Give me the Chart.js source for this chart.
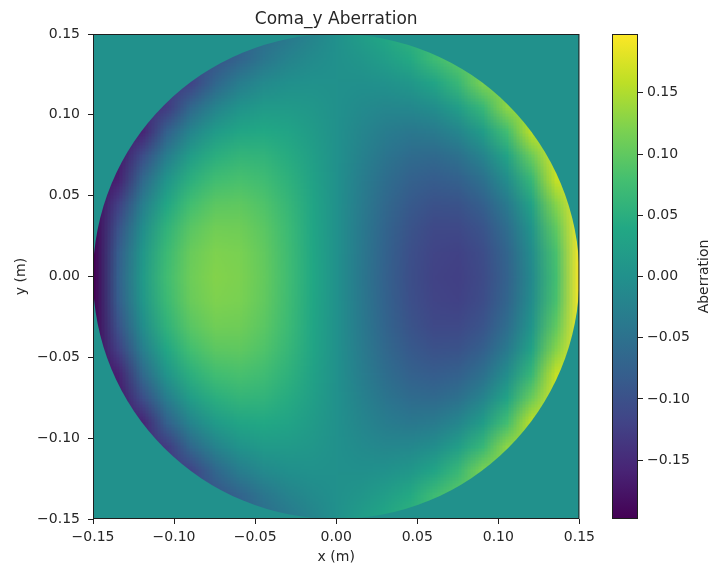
<!DOCTYPE html>
<html>
<head>
<meta charset="utf-8">
<script src="https://cdn.jsdelivr.net/npm/chart.js@4.4.0/dist/chart.umd.min.js"></script>
<style>
    html, body { margin: 0; padding: 0; background: #fff; }
    #wrap { position: relative; width: 715px; height: 572px; }
    #main { position: absolute; left: 0; top: 0; }
    #cbar { position: absolute; left: 600px; top: 0; }
</style>
</head>
<body>
<div id="wrap">
    <canvas id="main" width="600" height="572"></canvas>
    <canvas id="cbar" width="115" height="572"></canvas>
</div>
<script>
// grid positions (m) of the sampled aberration values
const xCoords = [-0.15, -0.135, -0.12, -0.105, -0.09, -0.075, -0.06, -0.045, -0.03, -0.015, 0,
    0.015, 0.03, 0.045, 0.06, 0.075, 0.09, 0.105, 0.12, 0.135, 0.15];
const yCoords = [0.15, 0.135, 0.12, 0.105, 0.09, 0.075, 0.06, 0.045, 0.03, 0.015, 0,
    -0.015, -0.03, -0.045, -0.06, -0.075, -0.09, -0.105, -0.12, -0.135, -0.15];

// aberration, one row per yCoords entry (top to bottom)
const aberration = [
    [-0.140, -0.132, -0.124, -0.114, -0.102, -0.089, -0.074, -0.057, -0.039, -0.020, 0, 0.020, 0.039, 0.057, 0.074, 0.089, 0.102, 0.114, 0.124, 0.132, 0.140],
    [-0.147, -0.140, -0.132, -0.122, -0.110, -0.096, -0.072, -0.042, -0.022, -0.009, 0, 0.009, 0.022, 0.042, 0.072, 0.096, 0.110, 0.122, 0.132, 0.140, 0.147],
    [-0.155, -0.148, -0.140, -0.130, -0.119, -0.066, -0.032, -0.011, -0.002, 0.001, 0, -0.001, 0.002, 0.011, 0.032, 0.066, 0.119, 0.130, 0.140, 0.148, 0.155],
    [-0.162, -0.156, -0.149, -0.130, -0.065, -0.022, 0.004, 0.015, 0.016, 0.010, 0, -0.010, -0.016, -0.015, -0.004, 0.022, 0.065, 0.130, 0.149, 0.156, 0.162],
    [-0.170, -0.165, -0.158, -0.076, -0.019, 0.017, 0.035, 0.039, 0.032, 0.018, 0, -0.018, -0.032, -0.039, -0.035, -0.017, 0.019, 0.076, 0.158, 0.165, 0.170],
    [-0.177, -0.173, -0.106, -0.031, 0.020, 0.050, 0.061, 0.058, 0.045, 0.024, 0, -0.024, -0.045, -0.058, -0.061, -0.050, -0.020, 0.031, 0.106, 0.173, 0.177],
    [-0.184, -0.162, -0.063, 0.007, 0.052, 0.076, 0.082, 0.074, 0.055, 0.030, 0, -0.030, -0.055, -0.074, -0.082, -0.076, -0.052, -0.007, 0.063, 0.162, 0.184],
    [-0.190, -0.125, -0.030, 0.036, 0.077, 0.097, 0.099, 0.087, 0.064, 0.034, 0, -0.034, -0.064, -0.087, -0.099, -0.097, -0.077, -0.036, 0.030, 0.125, 0.190],
    [-0.194, -0.098, -0.006, 0.057, 0.095, 0.112, 0.111, 0.096, 0.070, 0.037, 0, -0.037, -0.070, -0.096, -0.111, -0.112, -0.095, -0.057, 0.006, 0.098, 0.194],
    [-0.197, -0.082, 0.008, 0.069, 0.106, 0.121, 0.118, 0.101, 0.073, 0.038, 0, -0.038, -0.073, -0.101, -0.118, -0.121, -0.106, -0.069, -0.008, 0.082, 0.197],
    [-0.198, -0.077, 0.013, 0.074, 0.109, 0.124, 0.120, 0.103, 0.074, 0.039, 0, -0.039, -0.074, -0.103, -0.120, -0.124, -0.109, -0.074, -0.013, 0.077, 0.198],
    [-0.197, -0.082, 0.008, 0.069, 0.106, 0.121, 0.118, 0.101, 0.073, 0.038, 0, -0.038, -0.073, -0.101, -0.118, -0.121, -0.106, -0.069, -0.008, 0.082, 0.197],
    [-0.194, -0.098, -0.006, 0.057, 0.095, 0.112, 0.111, 0.096, 0.070, 0.037, 0, -0.037, -0.070, -0.096, -0.111, -0.112, -0.095, -0.057, 0.006, 0.098, 0.194],
    [-0.190, -0.125, -0.030, 0.036, 0.077, 0.097, 0.099, 0.087, 0.064, 0.034, 0, -0.034, -0.064, -0.087, -0.099, -0.097, -0.077, -0.036, 0.030, 0.125, 0.190],
    [-0.184, -0.162, -0.063, 0.007, 0.052, 0.076, 0.082, 0.074, 0.055, 0.030, 0, -0.030, -0.055, -0.074, -0.082, -0.076, -0.052, -0.007, 0.063, 0.162, 0.184],
    [-0.177, -0.173, -0.106, -0.031, 0.020, 0.050, 0.061, 0.058, 0.045, 0.024, 0, -0.024, -0.045, -0.058, -0.061, -0.050, -0.020, 0.031, 0.106, 0.173, 0.177],
    [-0.170, -0.165, -0.158, -0.076, -0.019, 0.017, 0.035, 0.039, 0.032, 0.018, 0, -0.018, -0.032, -0.039, -0.035, -0.017, 0.019, 0.076, 0.158, 0.165, 0.170],
    [-0.162, -0.156, -0.149, -0.130, -0.065, -0.022, 0.004, 0.015, 0.016, 0.010, 0, -0.010, -0.016, -0.015, -0.004, 0.022, 0.065, 0.130, 0.149, 0.156, 0.162],
    [-0.155, -0.148, -0.140, -0.130, -0.119, -0.066, -0.032, -0.011, -0.002, 0.001, 0, -0.001, 0.002, 0.011, 0.032, 0.066, 0.119, 0.130, 0.140, 0.148, 0.155],
    [-0.147, -0.140, -0.132, -0.122, -0.110, -0.096, -0.072, -0.042, -0.022, -0.009, 0, 0.009, 0.022, 0.042, 0.072, 0.096, 0.110, 0.122, 0.132, 0.140, 0.147],
    [-0.140, -0.132, -0.124, -0.114, -0.102, -0.089, -0.074, -0.057, -0.039, -0.020, 0, 0.020, 0.039, 0.057, 0.074, 0.089, 0.102, 0.114, 0.124, 0.132, 0.140]
];

const pupilRadius = 0.15;     // outside the pupil the value is zero
const outsideValue = 0;
const valueRange = [-0.198, 0.198];

const axisTicks = [-0.15, -0.10, -0.05, 0, 0.05, 0.10, 0.15];
const cbarTicks = [-0.15, -0.10, -0.05, 0, 0.05, 0.10, 0.15];

const VIRIDIS = [
    [68, 1, 84], [72, 36, 117], [65, 68, 135], [53, 95, 141], [42, 120, 142],
    [33, 145, 140], [34, 168, 132], [68, 191, 112], [122, 209, 81], [189, 223, 38], [253, 231, 37]
];

const FONT = "'DejaVu Sans', 'Liberation Sans', sans-serif";
const TEXT = '#262626';
const INK = '#1e1e1e';

function colorOf(v) {
    let t = (v - valueRange[0]) / (valueRange[1] - valueRange[0]);
    t = Math.max(0, Math.min(1, t));
    const p = t * (VIRIDIS.length - 1);
    const i = Math.min(Math.floor(p), VIRIDIS.length - 2);
    const f = p - i;
    const a = VIRIDIS[i], b = VIRIDIS[i + 1];
    return [0, 1, 2].map(k => Math.round(a[k] + (b[k] - a[k]) * f));
}
const rgb = c => `rgb(${c[0]},${c[1]},${c[2]})`;
const fmt = v => (v < 0 ? '\u2212' : '') + Math.abs(v).toFixed(2);
const fixTicks = list => scale => { scale.ticks = list.map(v => ({ value: v })); };

// small image, one pixel per sample, scaled up with smoothing
function buildImage() {
    const cv = document.createElement('canvas');
    cv.width = xCoords.length;
    cv.height = yCoords.length;
    const c = cv.getContext('2d');
    const img = c.createImageData(cv.width, cv.height);
    aberration.forEach((row, r) => {
        row.forEach((v, col) => {
            const [R, G, B] = colorOf(v);
            const k = (r * cv.width + col) * 4;
            img.data[k] = R; img.data[k + 1] = G; img.data[k + 2] = B; img.data[k + 3] = 255;
        });
    });
    c.putImageData(img, 0, 0);
    return cv;
}
const heatImage = buildImage();

const heatmap = {
    id: 'heatmap',
    beforeDatasetsDraw(chart) {
        const { ctx, chartArea: a, scales: { x, y } } = chart;
        ctx.save();
        ctx.beginPath();
        ctx.rect(a.left, a.top, a.width, a.height);
        ctx.clip();
        ctx.fillStyle = rgb(colorOf(outsideValue));
        ctx.fillRect(a.left, a.top, a.width, a.height);

        const cx = x.getPixelForValue(0), cy = y.getPixelForValue(0);
        const rx = x.getPixelForValue(pupilRadius) - cx;
        const ry = cy - y.getPixelForValue(pupilRadius);
        ctx.beginPath();
        ctx.ellipse(cx, cy, rx, ry, 0, 0, Math.PI * 2);
        ctx.clip();

        const half = Math.abs(xCoords[1] - xCoords[0]) / 2;
        const x0 = x.getPixelForValue(xCoords[0] - half);
        const x1 = x.getPixelForValue(xCoords[xCoords.length - 1] + half);
        const y0 = y.getPixelForValue(yCoords[0] + half);
        const y1 = y.getPixelForValue(yCoords[yCoords.length - 1] - half);
        ctx.imageSmoothingEnabled = true;
        ctx.drawImage(heatImage, x0, y0, x1 - x0, y1 - y0);
        ctx.restore();
    },
    afterDatasetsDraw(chart) {
        const { ctx, chartArea: a } = chart;
        ctx.save();
        ctx.strokeStyle = INK;
        ctx.lineWidth = 1;
        ctx.strokeRect(a.left + 0.5, a.top + 0.5, a.width - 1, a.height - 1);
        ctx.restore();
    }
};

const tickFont = { family: FONT, size: 14 };

new Chart(document.getElementById('main'), {
    type: 'scatter',
    data: { datasets: [{ data: [] }] },
    options: {
        responsive: false,
        animation: false,
        events: [],
        layout: { padding: { left: 0, right: 20, top: 0, bottom: 0 } },
        plugins: {
            legend: { display: false },
            tooltip: { enabled: false },
            title: {
                display: true,
                text: 'Coma_y Aberration',
                color: TEXT,
                fullSize: false,
                font: { family: FONT, size: 17, weight: 'normal' },
                padding: { top: 9, bottom: 4.6 }
            }
        },
        scales: {
            x: {
                type: 'linear',
                min: -0.15,
                max: 0.15,
                afterBuildTicks: fixTicks(axisTicks),
                afterFit: s => { s.height = 53; },
                border: { display: false },
                grid: { drawOnChartArea: false, drawTicks: true, tickLength: 5, tickColor: INK },
                ticks: { color: TEXT, font: tickFont, padding: 5, maxRotation: 0, callback: fmt },
                title: { display: true, text: 'x (m)', color: TEXT, font: tickFont, padding: { top: 0, bottom: 6 } }
            },
            y: {
                type: 'linear',
                min: -0.15,
                max: 0.15,
                afterBuildTicks: fixTicks(axisTicks),
                afterFit: s => { s.width = 93; },
                border: { display: false },
                grid: { drawOnChartArea: false, drawTicks: true, tickLength: 5, tickColor: INK },
                ticks: { color: TEXT, font: tickFont, padding: 8, callback: fmt },
                title: { display: true, text: 'y (m)', color: TEXT, font: tickFont, padding: { top: 13, bottom: 0 } }
            }
        }
    },
    plugins: [heatmap]
});

// colorbar
const colorbar = {
    id: 'colorbar',
    beforeDatasetsDraw(chart) {
        const { ctx, chartArea: a, scales: { y } } = chart;
        const g = ctx.createLinearGradient(0, y.getPixelForValue(valueRange[0]), 0, y.getPixelForValue(valueRange[1]));
        VIRIDIS.forEach((c, i) => g.addColorStop(i / (VIRIDIS.length - 1), rgb(c)));
        ctx.save();
        ctx.fillStyle = g;
        ctx.fillRect(a.left, a.top, a.width, a.height);
        ctx.strokeStyle = INK;
        ctx.lineWidth = 1;
        ctx.strokeRect(a.left + 0.5, a.top + 0.5, a.width - 1, a.height - 1);
        ctx.restore();
    },
    afterDraw(chart) {
        const { ctx, chartArea: a } = chart;
        ctx.save();
        ctx.translate(104, (a.top + a.bottom) / 2);
        ctx.rotate(-Math.PI / 2);
        ctx.fillStyle = TEXT;
        ctx.font = `14px ${FONT}`;
        ctx.textAlign = 'center';
        ctx.textBaseline = 'middle';
        ctx.fillText('Aberration', 0, 0);
        ctx.restore();
    }
};

new Chart(document.getElementById('cbar'), {
    type: 'scatter',
    data: { datasets: [{ data: [] }] },
    options: {
        responsive: false,
        animation: false,
        events: [],
        layout: { padding: { left: 12, right: 0, top: 34, bottom: 53 } },
        plugins: { legend: { display: false }, tooltip: { enabled: false } },
        scales: {
            x: { display: false, min: 0, max: 1 },
            y: {
                position: 'right',
                min: valueRange[0],
                max: valueRange[1],
                afterBuildTicks: fixTicks(cbarTicks),
                afterFit: s => { s.width = 77; },
                border: { display: false },
                grid: { drawOnChartArea: false, drawTicks: true, tickLength: 5, tickColor: INK },
                ticks: { color: TEXT, font: tickFont, padding: 4, callback: fmt }
            }
        }
    },
    plugins: [colorbar]
});
</script>
</body>
</html>
